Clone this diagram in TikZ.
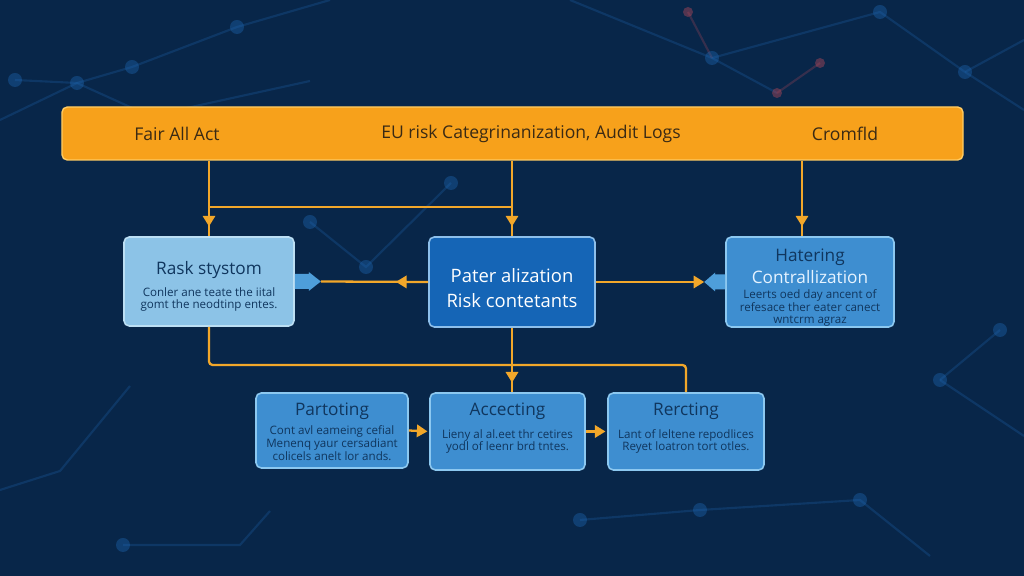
\documentclass[tikz,border=0pt]{standalone}
\usepackage{fontspec}
\setmainfont{Open Sans}
\usetikzlibrary{arrows.meta,positioning,calc,decorations.markings}

\definecolor{bgnavy}{HTML}{082649}
\definecolor{netblue}{HTML}{1E66B0}
\definecolor{netred}{HTML}{B0485A}
\definecolor{bannerorange}{HTML}{F7A11B}
\definecolor{bannerrim}{HTML}{FFCB62}
\definecolor{bannerink}{HTML}{3A2A14}
\definecolor{lineorange}{HTML}{F2A72A}
\definecolor{lightfill}{HTML}{8CC3E7}
\definecolor{lightrim}{HTML}{BCDFF4}
\definecolor{darkfill}{HTML}{1565B6}
\definecolor{darkrim}{HTML}{8DBFEB}
\definecolor{midfill}{HTML}{3E8ED0}
\definecolor{midrim}{HTML}{8CC8F0}
\definecolor{tabblue}{HTML}{4E9EDA}
\definecolor{cardink}{HTML}{10365E}
\definecolor{paleink}{HTML}{E6F3FF}

\newcommand\bannerfont{\fontsize{10}{12}\selectfont}
\newcommand\cardtitle{\fontsize{9.8}{11.6}\selectfont}
\newcommand\bigtitle{\fontsize{10.5}{14.2}\selectfont}
\newcommand\cardbody{\fontsize{6.6}{7.3}\selectfont}

\begin{document}
\begin{tikzpicture}[
    flow/.style={lineorange, line width=1.3pt},
    tipat/.style={postaction={decorate},
        decoration={markings, mark=at position #1 with {\arrow{Triangle[length=6pt,width=7pt]}}}},
    net/.style={netblue, line width=1.2pt, opacity=0.28},
    netdot/.style={fill=netblue, opacity=0.4},
    card/.style={rounded corners=3pt, line width=0.9pt, inner sep=0pt},
    lightcard/.style={card, fill=lightfill, draw=lightrim},
    darkcard/.style={card, fill=darkfill, draw=darkrim},
    midcard/.style={card, fill=midfill, draw=midrim},
    titletext/.style={font=\cardtitle, text=cardink, inner sep=0pt},
    bodytext/.style={font=\cardbody, text=cardink, align=center, inner sep=0pt}
  ]

     % background and page size
     \fill[bgnavy] (0,0) rectangle (20.48,11.52);
     \useasboundingbox (0,0) rectangle (20.48,11.52);

     % faint network in the background
     \draw[net] (0,9.12) -- (1.54,9.86) -- (2.64,10.18) -- (4.74,10.98) -- (6.6,11.52);
     \draw[net] (0.3,9.92) -- (1.54,9.86) -- (3,9.2) -- (6.2,9.9);
     \draw[net] (11.4,11.52) -- (14.24,10.36) -- (17.6,11.28) -- (19.3,10.08) -- (20.48,9.32);
     \draw[net] (14.24,10.36) -- (15.54,9.66);
     \draw[net] (19.3,10.08) -- (20.48,10.72);
     \draw[net,netred] (13.76,11.28) -- (14.24,10.36);
     \draw[net,netred] (15.54,9.66) -- (16.4,10.26);
     \draw[net] (6.2,7.08) -- (7.32,6.18) -- (9.02,7.86);
     \draw[net] (18.8,3.92) -- (20,4.92);
     \draw[net] (18.8,3.92) -- (20.48,2.8);
     \draw[net] (11.6,1.12) -- (14,1.32) -- (17.2,1.52) -- (18.6,0.4);
     \draw[net] (2.46,0.62) -- (4.8,0.62) -- (5.4,1.3);
     \draw[net] (0,1.72) -- (1.2,2.1) -- (2.6,3.8);
     \foreach \p in {(1.54,9.86),(2.64,10.18),(4.74,10.98),(0.3,9.92),(14.24,10.36),
                     (17.6,11.28),(19.3,10.08),(6.2,7.08),(7.32,6.18),(9.02,7.86),
                     (18.8,3.92),(20,4.92),(11.6,1.12),(14,1.32),(17.2,1.52),(2.46,0.62)}
       \fill[netdot] \p circle (0.14);
     \foreach \p in {(13.76,11.28),(15.54,9.66),(16.4,10.26)}
       \fill[netred, opacity=0.45] \p circle (0.1);

     % the orange banner on top
     \node[rounded corners=3pt, fill=bannerorange, draw=bannerrim, line width=0.8pt,
           minimum width=18.02cm, minimum height=1.06cm] (banner) at (10.25,8.85) {};
     \node[text=bannerink, font=\bannerfont] (fair)  at (3.54,8.85)  {Fair All Act};
     \node[text=bannerink, font=\bannerfont] (euact) at (10.62,8.85) {EU risk Categrinanization, Audit Logs};
     \node[text=bannerink, font=\bannerfont] (crom)  at (16.9,8.85)  {Cromfld};

     % middle row
     \node[lightcard, minimum width=3.4cm, minimum height=1.78cm] (rask) at (4.18,5.89) {};
     \node[titletext] (rasktitle) at ($(rask.center)+(0,0.23)$) {Rask stystom};
     \node[bodytext] (raskbody) at ($(rask.center)+(0,-0.36)$)
          {Conler ane teate the iital\\ gomt the neodtinp entes.};

     \node[darkcard, minimum width=3.32cm, minimum height=1.8cm] (pater) at (10.24,5.88) {};
     \node[font=\bigtitle, text=white, align=center, inner sep=0pt] (patertext)
          at ($(pater.center)+(0,-0.13)$) {Pater alization\\ Risk contetants};

     \node[midcard, minimum width=3.36cm, minimum height=1.8cm] (hatering) at (16.2,5.88) {};
     \node[titletext] (hattitle) at ($(hatering.center)+(0,0.5)$) {Hatering};
     \node[titletext, text=paleink] (hatsub) at ($(hatering.center)+(0,0.1)$) {Contrallization};
     \node[bodytext] (hatbody) at ($(hatering.center)+(0,-0.52)$)
          {Leerts oed day ancent of\\ refesace ther eater canect\\ wntcrm agraz};

     % bottom row
     \node[midcard, minimum width=3.04cm, minimum height=1.5cm] (partoting) at (6.64,2.91) {};
     \node[titletext] (parttitle) at ($(partoting.center)+(0,0.39)$) {Partoting};
     \node[bodytext] (partbody) at ($(partoting.center)+(0,-0.25)$)
          {Cont avl eameing cefial\\ Menenq yaur cersadiant\\ colicels anelt lor ands.};

     \node[midcard, minimum width=3.1cm, minimum height=1.54cm] (accecting) at (10.15,2.89) {};
     \node[titletext] (acctitle) at ($(accecting.center)+(0,0.41)$) {Accecting};
     \node[bodytext] (accbody) at ($(accecting.center)+(0,-0.2)$)
          {Lieny al al.eet thr cetires\\ yodl of leenr brd tntes.};

     \node[midcard, minimum width=3.12cm, minimum height=1.54cm] (rercting) at (13.72,2.89) {};
     \node[titletext] (rerctitle) at ($(rercting.center)+(0,0.41)$) {Rercting};
     \node[bodytext] (rercbody) at ($(rercting.center)+(0,-0.2)$)
          {Lant of leltene repodlices\\ Reyet loatron tort otles.};

     % blue tabs on the side cards
     \fill[tabblue] (rask.east) ++(0,0.15) -- ++(0.28,0) -- ++(0,0.04) -- ++(0.24,-0.19)
          -- ++(-0.24,-0.19) -- ++(0,0.04) -- ++(-0.28,0) -- cycle;
     \coordinate (rasktab) at ($(rask.east)+(0.52,0)$);
     \fill[tabblue] (hatering.west) ++(0,0.15) -- ++(-0.2,0) -- ++(0,0.04) -- ++(-0.22,-0.19)
          -- ++(0.22,-0.19) -- ++(0,0.04) -- ++(0.2,0) -- cycle;
     \coordinate (hattab) at ($(hatering.west)+(-0.42,0)$);

     % connectors from the banner
     \draw[flow, tipat=0.87] (rask.north |- banner.south) -- (rask.north);
     \draw[flow, tipat=0.87] (pater.north |- banner.south) -- (pater.north);
     \draw[flow] (rask.north |- 0,7.38) -- (pater.north |- 0,7.38);
     \coordinate (hattop) at ($(hatering.north)+(-0.16,0)$);
     \draw[flow, tipat=0.87] (hattop |- banner.south) -- (hattop);

     % connectors of the middle row
     \draw[flow, tipat=0.3] (pater.west) -- (rasktab);
     \draw[flow, -{Triangle[length=6pt,width=7pt]}] (pater.east) -- (hattab);

     % down to the bottom row
     \draw[flow, tipat=0.85] (pater.south) -- (pater.south |- accecting.north);
     \draw[flow, rounded corners=2pt] (rask.south) -- (rask.south |- 0,4.22) -| (rercting.north);
     \draw[flow, -{Triangle[length=6pt,width=7pt]}, shorten >=1pt] (partoting.east) -- (accecting.west);
     \draw[flow, -{Triangle[length=6pt,width=7pt]}, shorten >=1pt] (accecting.east) -- (rercting.west);

  \end{tikzpicture}
\end{document}
